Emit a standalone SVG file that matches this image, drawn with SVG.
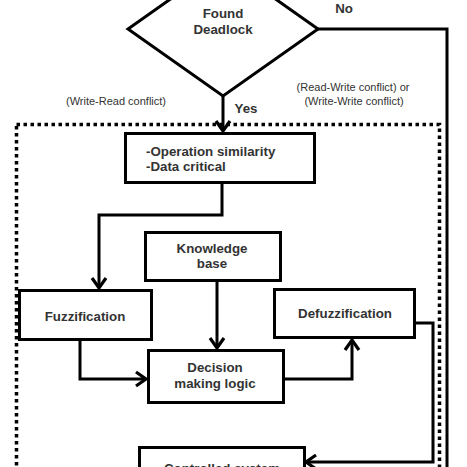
<svg xmlns="http://www.w3.org/2000/svg" width="467" height="467" viewBox="0 0 467 467">
<defs>
<marker id="arr" markerUnits="userSpaceOnUse" markerWidth="20" markerHeight="20" viewBox="-12 -10 14 20" refX="0" refY="0" orient="auto">
<polyline points="-10,-7 0,0 -10,7" fill="none" stroke="#000" stroke-width="3.2" stroke-linejoin="miter"/>
</marker>
</defs>
<style>
.box{fill:#fff;stroke:#000;stroke-width:3}
.t{font-family:"Liberation Sans",Arial,sans-serif;font-weight:bold;font-size:13.3px;fill:#333;text-anchor:middle}
.s{font-family:"Liberation Sans",Arial,sans-serif;font-size:11px;fill:#333;text-anchor:middle}
.c{fill:none;stroke:#000;stroke-width:3}
</style>
<rect width="467" height="467" fill="#fff"/>
<g id="region">
<rect x="16.5" y="124.5" width="423" height="360" fill="none" stroke="#000" stroke-width="3.5" stroke-dasharray="3.5 3.5"/>
</g>
<g id="connectors">
<polyline class="c" points="318,29 447,29 447,480"/>
<line class="c" x1="223" y1="96" x2="223" y2="131" marker-end="url(#arr)"/>
<polyline class="c" points="222,183 222,215 99,215 99,288" marker-end="url(#arr)"/>
<line class="c" x1="217" y1="281" x2="217" y2="348" marker-end="url(#arr)"/>
<polyline class="c" points="80,340 80,379 146,379" marker-end="url(#arr)"/>
<polyline class="c" points="284,379 352,379 352,340" marker-end="url(#arr)"/>
<polyline class="c" points="415,323 433,323 433,462 306,462" marker-end="url(#arr)"/>
</g>
<g id="decision">
<polygon class="box" points="223,-38 318,29 223,96 128,29"/>
<text class="t" x="223" y="18">Found</text>
<text class="t" x="223" y="34">Deadlock</text>
</g>
<g id="labels">
<text class="t" x="344" y="13">No</text>
<text class="t" x="246" y="113">Yes</text>
<text class="s" x="116" y="105">(Write-Read conflict)</text>
<text class="s" x="353" y="91">(Read-Write conflict) or</text>
<text class="s" x="354" y="105">(Write-Write conflict)</text>
</g>
<g id="criteria">
<rect class="box" x="125.5" y="133.5" width="189" height="49"/>
<text class="t" x="146" y="156" style="text-anchor:start">-Operation similarity</text>
<text class="t" x="146" y="171" style="text-anchor:start">-Data critical</text>
</g>
<g id="knowledge">
<rect class="box" x="145.5" y="232.5" width="135" height="48"/>
<text class="t" x="212" y="253">Knowledge</text>
<text class="t" x="212" y="268">base</text>
</g>
<g id="fuzzification">
<rect class="box" x="19.5" y="290.5" width="132" height="49"/>
<text class="t" x="85" y="321">Fuzzification</text>
</g>
<g id="defuzzification">
<rect class="box" x="274.5" y="289.5" width="140" height="48"/>
<text class="t" x="345" y="318">Defuzzification</text>
</g>
<g id="decisionlogic">
<rect class="box" x="148.5" y="350.5" width="135" height="52"/>
<text class="t" x="215" y="372">Decision</text>
<text class="t" x="215" y="388">making logic</text>
</g>
<g id="controlled">
<rect class="box" x="139.5" y="447.5" width="165" height="40"/>
<text class="t" x="222" y="473">Controlled system</text>
</g>
</svg>
